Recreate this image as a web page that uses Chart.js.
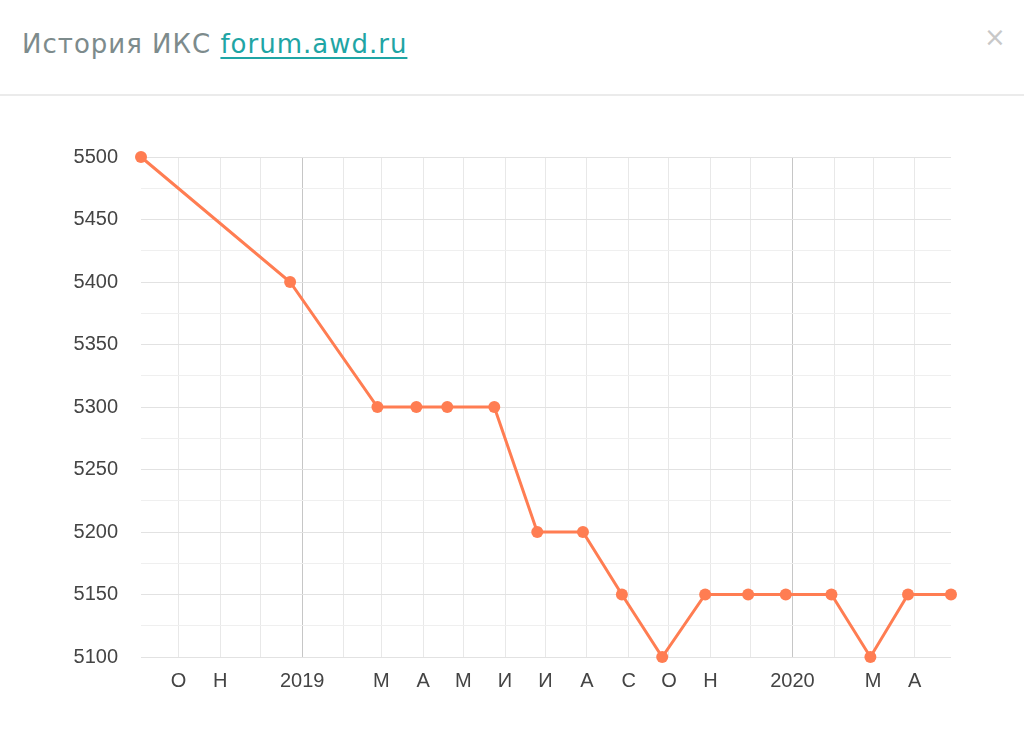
<!DOCTYPE html>
<html>
<head>
<meta charset="utf-8">
<script src="https://cdn.jsdelivr.net/npm/chart.js@4"></script>
<style>
  html, body { margin:0; padding:0; background:#fff; width:1024px; height:753px; overflow:hidden; }
  #title { position:absolute; left:22px; top:27px; font-family:"DejaVu Sans", sans-serif; font-size:26px; letter-spacing:1px; line-height:34px; color:#7d8b8c; white-space:nowrap; }
  #title a { color:#1fa5a5; text-decoration:underline; text-decoration-thickness:2px; text-underline-offset:4px; }
  #close { position:absolute; left:984px; top:22px; font-family:"DejaVu Sans", sans-serif; font-size:26px; line-height:30px; color:#c8c8c8; }
  #sep { position:absolute; left:0; top:94px; width:1024px; height:2px; background:#ebebeb; }
  #wrap { position:absolute; left:0; top:100px; width:1024px; height:620px; }
</style>
</head>
<body>
<div id="title">История ИКС <a href="#">forum.awd.ru</a></div>
<div id="close">×</div>
<div id="sep"></div>
<div id="wrap"><canvas id="c"></canvas></div>
<script>
// Data
const dates = ['2018-09-03','2018-12-23','2019-02-26','2019-03-27','2019-04-19','2019-05-24',
               '2019-06-25','2019-07-29','2019-08-27','2019-09-26','2019-10-28','2019-11-29',
               '2019-12-27','2020-01-30','2020-02-28','2020-03-27','2020-04-28'];
const values = [5500,5400,5300,5300,5300,5300,5200,5200,5150,5100,5150,5150,5150,5150,5100,5150,5150];
const monthLetters = ['', '', 'М', 'А', 'М', 'И', 'И', 'А', 'С', 'О', 'Н', ''];
const yMin = 5100, yMax = 5500, yStep = 25, yLabelStep = 50;

const DAY = 86400000;
function toDay(s) { const p = s.split('-').map(Number); return Date.UTC(p[0], p[1]-1, p[2]) / DAY; }
const points = dates.map((d, i) => ({ x: toDay(d), y: values[i] }));

const lineColor = 'rgb(255,125,82)';

new Chart(document.getElementById('c'), {
  type: 'line',
  data: { datasets: [{
    data: points,
    borderColor: lineColor,
    backgroundColor: lineColor,
    borderWidth: 3,
    pointRadius: 6,
    pointHoverRadius: 6,
    pointBorderWidth: 0,
    tension: 0,
    fill: false,
    clip: false
  }]},
  options: {
    responsive: true,
    maintainAspectRatio: false,
    animation: false,
    events: [],
    layout: { padding: { top: 57, right: 73, bottom: 15, left: 0 } },
    plugins: { legend: { display: false }, tooltip: { enabled: false } },
    scales: {
      x: {
        type: 'linear',
        min: points[0].x,
        max: points[points.length - 1].x,
        afterBuildTicks: (scale) => {
          const ticks = [];
          const start = new Date(points[0].x * DAY);
          let y = start.getUTCFullYear(), m = start.getUTCMonth() + 1;
          while (true) {
            const v = Date.UTC(y, m, 1) / DAY;
            if (v > scale.max) break;
            if (v >= scale.min) ticks.push({ value: v });
            m++; if (m > 11) { m = 0; y++; }
          }
          scale.ticks = ticks;
        },
        ticks: {
          autoSkip: false, maxRotation: 0, padding: 12,
          color: '#444', font: { family: '"Liberation Sans", Arial, sans-serif', size: 20 },
          callback: (v) => {
            const d = new Date(v * DAY);
            const m = d.getUTCMonth();
            if (m === 0) return String(d.getUTCFullYear());
            return monthLetters[m];
          }
        },
        grid: {
          drawTicks: false,
          lineWidth: 1,
          color: (ctx) => {
            if (!ctx.tick) return '#e8e8e8';
            const d = new Date(ctx.tick.value * DAY);
            return d.getUTCMonth() === 0 ? '#c6c6c6' : '#e8e8e8';
          }
        },
        border: { display: false }
      },
      y: {
        min: yMin, max: yMax,
        afterFit: (scale) => { scale.width = 141; },
        ticks: {
          stepSize: yStep, padding: 23, autoSkip: false,
          color: '#444', font: { family: '"Liberation Sans", Arial, sans-serif', size: 20 },
          callback: (v) => (v % yLabelStep === 0 ? String(v) : '')
        },
        grid: {
          drawTicks: false,
          lineWidth: 1,
          color: (ctx) => (ctx.tick && ctx.tick.value % yLabelStep === 0 ? '#e2e2e2' : '#efefef')
        },
        border: { display: false }
      }
    }
  }
});
</script>
</body>
</html>
